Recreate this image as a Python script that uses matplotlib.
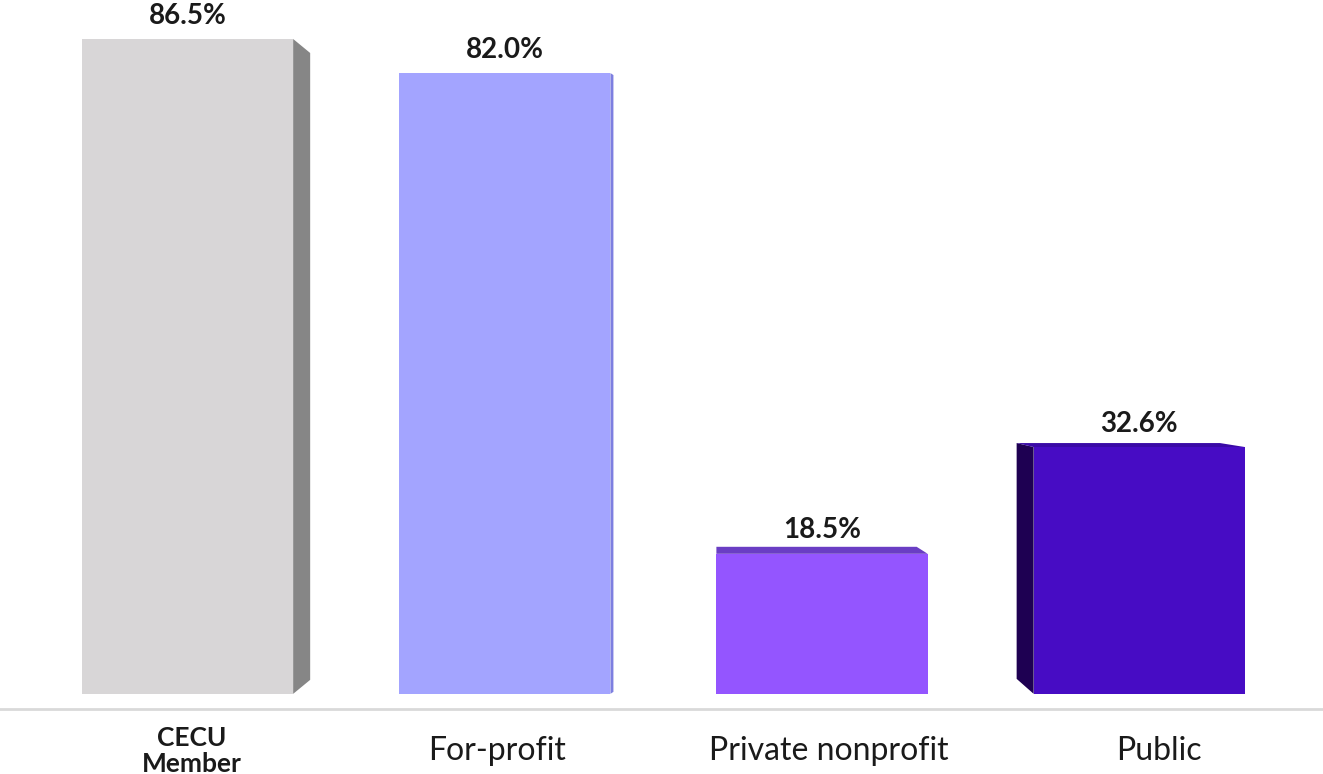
import matplotlib.pyplot as plt
import matplotlib.transforms as mtransforms
from matplotlib.patches import Polygon

plt.rcParams['font.family'] = ['Lato', 'DejaVu Sans']

# data
categories = ['CECU\nMember', 'For-profit', 'Private nonprofit', 'Public']
values = [86.5, 82.0, 18.5, 32.6]
value_labels = ['86.5%', '82.0%', '18.5%', '32.6%']

# colours: front, side/top
front_colors = ['#d8d6d7', '#a3a4ff', '#9455ff', '#470cc4']
shade_colors = ['#868686', '#7d7fe0', '#6a3ec4', '#1e0052']

fig = plt.figure(figsize=(13.23, 7.74), dpi=100)
ax = fig.add_axes([0, 65 / 774, 1, 709 / 774])

x = list(range(len(categories)))
width = 0.666
ax.bar(x, values, width=width, color=front_colors, zorder=3)

ax.set_xlim(-0.591, 3.579)
ax.set_ylim(-2, 91.65)

# pixel -> data conversion for the fake 3d faces
px_x = 1 / 317
px_y = 93.65 / 709

for i, v in enumerate(values):
    left = i - width / 2
    right = i + width / 2
    c = shade_colors[i]
    if i == 0:
        # right side face
        dx, dy = 17 * px_x, 14 * px_y
        pts = [(right, v), (right + dx, v - dy), (right + dx, dy), (right, 0)]
        ax.add_patch(Polygon(pts, closed=True, color=c, lw=0, zorder=2))
    elif i == 1:
        dx, dy = 3 * px_x, 2 * px_y
        pts = [(right, v), (right + dx, v - dy), (right + dx, dy), (right, 0)]
        ax.add_patch(Polygon(pts, closed=True, color=c, lw=0, zorder=2))
    elif i == 2:
        # top face
        dx, dy = 11 * px_x, 7 * px_y
        pts = [(left, v), (left, v + dy), (right - dx, v + dy), (right, v)]
        ax.add_patch(Polygon(pts, closed=True, color=c, lw=0, zorder=2))
    else:
        # left side + top face
        sx, dy = 17 * px_x, 4 * px_y
        side = [(left, v), (left - sx, v + dy), (left - sx, 15 * px_y), (left, 0)]
        ax.add_patch(Polygon(side, closed=True, color=c, lw=0, zorder=2))
        top = [(left, v), (left - sx, v + dy), (right - 25 * px_x, v + dy), (right, v)]
        ax.add_patch(Polygon(top, closed=True, color='#3a0aa6', lw=0, zorder=2))

for i, v in enumerate(values):
    ax.annotate(value_labels[i], (i, v), xytext=(0, 7.5), textcoords='offset points',
                ha='center', va='bottom', fontsize=20, fontweight='bold', color='#1a1a1a')

ax.set_xticks(x)
ax.set_xticklabels(categories, fontsize=23, color='#1a1a1a')
ax.tick_params(axis='x', length=0, pad=30)
label_shift = [4, -8, 7, 20]  # pixels
for i, lab in enumerate(ax.get_xticklabels()):
    lab.set_verticalalignment('center')
    off = mtransforms.ScaledTranslation(label_shift[i] / 100, 0, fig.dpi_scale_trans)
    lab.set_transform(lab.get_transform() + off)
    if i == 0:
        lab.set_fontweight('bold')
        lab.set_fontsize(19)
        lab.set_linespacing(1.1)
ax.set_yticks([])
for s in ['top', 'left', 'right']:
    ax.spines[s].set_visible(False)
ax.spines['bottom'].set_color('#d9d9d9')
ax.spines['bottom'].set_linewidth(2)

fig.savefig('out.png', dpi=100)
